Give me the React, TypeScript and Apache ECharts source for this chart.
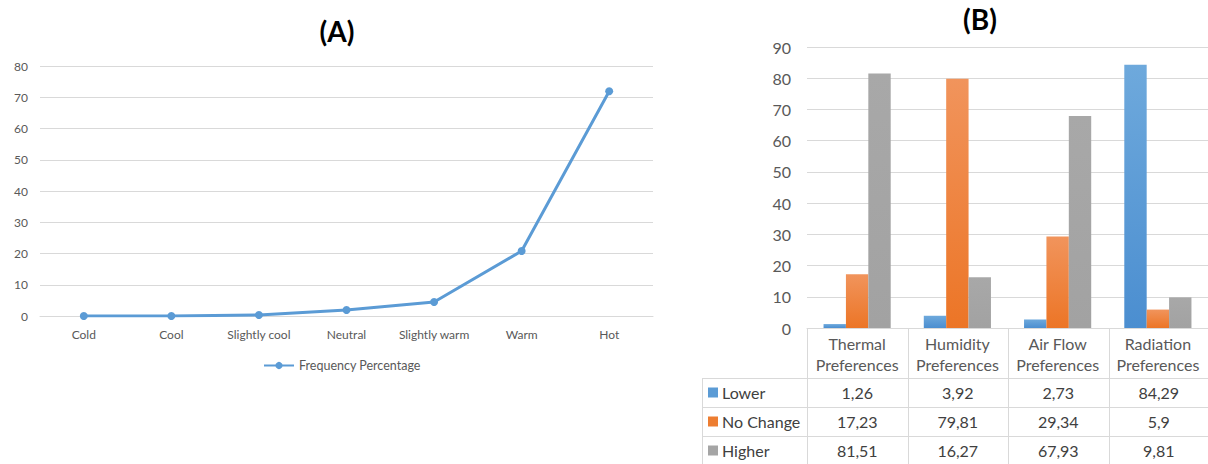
import React, { useEffect, useRef } from "react";
import * as echarts from "echarts";

// ---- Data: chart (A)
const sensationCategories = ["Cold", "Cool", "Slightly cool", "Neutral", "Slightly warm", "Warm", "Hot"];
const frequencyPercentage = [0, 0, 0.3, 1.9, 4.5, 20.8, 71.9];
const seriesNameA = "Frequency Percentage";

// ---- Data: chart (B)
const preferenceCategories = [
  "Thermal\nPreferences",
  "Humidity\nPreferences",
  "Air Flow\nPreferences",
  "Radiation\nPreferences",
];
const seriesNamesB = ["Lower", "No Change", "Higher"];
const lowerValues = [1.26, 3.92, 2.73, 84.29];
const noChangeValues = [17.23, 79.81, 29.34, 5.9];
const higherValues = [81.51, 16.27, 67.93, 9.81];

const FONT = "Lato, 'Open Sans', sans-serif";
const TXT = "#595959";
const GRID_C = "#D9D9D9";
const COLORS_B = ["#5B9BD5", "#ED7D31", "#A5A5A5"];
const GRAD_B = [
  ["#6EA9DC", "#4B8ED0"],
  ["#F1945C", "#EC7526"],
  ["#A8A8A8", "#A2A2A2"],
];

// layout
const A = { left: 40, top: 66, width: 613, height: 250 };
const B = { left: 807, top: 47, width: 402, height: 281 };
const TABLE = { headerBottom: 378, rowH: 29, labelLeft: 702, bottom: 470 };

function buildGraphic() {
  const els: any[] = [];
  els.push({
    type: "text",
    x: 337,
    y: 31,
    style: { text: "(A)", align: "center", verticalAlign: "middle", font: `bold 28px ${FONT}`, fill: "#000" },
  });
  els.push({
    type: "text",
    x: 980,
    y: 19,
    style: { text: "(B)", align: "center", verticalAlign: "middle", font: `bold 28px ${FONT}`, fill: "#000" },
  });
  const n = preferenceCategories.length;
  const colW = B.width / n;
  const tableTop = B.top + B.height;
  const right = B.left + B.width;
  const lineStyle = { stroke: GRID_C, lineWidth: 1 };
  const rowsData = [lowerValues, noChangeValues, higherValues];
  for (let r = 0; r <= rowsData.length; r++) {
    const y = TABLE.headerBottom + r * TABLE.rowH + 0.5;
    els.push({ type: "line", shape: { x1: TABLE.labelLeft, y1: y, x2: right, y2: y }, style: lineStyle, silent: true });
  }
  els.push({
    type: "line",
    shape: { x1: TABLE.labelLeft + 0.5, y1: TABLE.headerBottom, x2: TABLE.labelLeft + 0.5, y2: TABLE.bottom },
    style: lineStyle,
    silent: true,
  });
  for (let i = 0; i <= n; i++) {
    const x = Math.round(B.left + i * colW) + 0.5;
    els.push({ type: "line", shape: { x1: x, y1: tableTop, x2: x, y2: TABLE.bottom }, style: lineStyle, silent: true });
  }
  rowsData.forEach((vals, r) => {
    const yc = TABLE.headerBottom + (r + 0.5) * TABLE.rowH;
    els.push({
      type: "rect",
      shape: { x: 708, y: yc - 5, width: 10, height: 10 },
      style: { fill: COLORS_B[r] },
      silent: true,
    });
    els.push({
      type: "text",
      x: 722,
      y: yc,
      style: { text: seriesNamesB[r], align: "left", verticalAlign: "middle", font: `16px ${FONT}`, fill: "#404040" },
    });
    vals.forEach((v, i) => {
      els.push({
        type: "text",
        x: B.left + (i + 0.5) * colW,
        y: yc,
        style: {
          text: String(v).replace(".", ","),
          align: "center",
          verticalAlign: "middle",
          font: `16px ${FONT}`,
          fill: "#404040",
        },
      });
    });
  });
  return els;
}

export default function App() {
  const ref = useRef<HTMLDivElement>(null);
  useEffect(() => {
    document.body.style.margin = "0";
    if (!ref.current) return;
    const chart = echarts.init(ref.current, undefined, { renderer: "svg" });
    const seriesDataB = [lowerValues, noChangeValues, higherValues];
    chart.setOption({
      animation: false,
      backgroundColor: "#fff",
      textStyle: { fontFamily: FONT },
      grid: [
        { left: A.left, top: A.top, width: A.width, height: A.height, containLabel: false },
        { left: B.left, top: B.top, width: B.width, height: B.height, containLabel: false },
      ],
      legend: {
        data: [seriesNameA],
        left: 258,
        top: 354,
        itemWidth: 30,
        itemHeight: 9,
        textStyle: { color: TXT, fontSize: 12.5, fontFamily: FONT },
      },
      xAxis: [
        {
          type: "category",
          gridIndex: 0,
          data: sensationCategories,
          boundaryGap: true,
          axisLine: { lineStyle: { color: GRID_C } },
          axisTick: { show: false },
          axisLabel: { color: TXT, fontSize: 12, margin: 12, fontFamily: FONT, interval: 0, hideOverlap: false },
        },
        {
          type: "category",
          gridIndex: 1,
          data: preferenceCategories,
          axisLine: { lineStyle: { color: GRID_C } },
          axisTick: { show: false },
          axisLabel: { color: TXT, fontSize: 16, lineHeight: 21, margin: 5, fontFamily: FONT, interval: 0 },
        },
      ],
      yAxis: [
        {
          type: "value",
          gridIndex: 0,
          min: 0,
          max: 80,
          interval: 10,
          axisLine: { show: false },
          axisTick: { show: false },
          splitLine: { lineStyle: { color: GRID_C } },
          axisLabel: { color: TXT, fontSize: 12, margin: 12, fontFamily: FONT },
        },
        {
          type: "value",
          gridIndex: 1,
          min: 0,
          max: 90,
          interval: 10,
          axisLine: { show: false },
          axisTick: { show: false },
          splitLine: { lineStyle: { color: GRID_C } },
          axisLabel: { color: TXT, fontSize: 16, margin: 16, fontFamily: FONT },
        },
      ],
      series: [
        {
          name: seriesNameA,
          type: "line",
          xAxisIndex: 0,
          yAxisIndex: 0,
          data: frequencyPercentage,
          symbol: "circle",
          symbolSize: 8,
          lineStyle: { color: "#5B9BD5", width: 3 },
          itemStyle: { color: "#5B9BD5" },
        },
        ...seriesNamesB.map((name, i) => ({
          name,
          type: "bar",
          xAxisIndex: 1,
          yAxisIndex: 1,
          data: seriesDataB[i],
          barGap: "0%",
          barCategoryGap: "33%",
          itemStyle: {
            color: new echarts.graphic.LinearGradient(0, 0, 0, 1, [
              { offset: 0, color: GRAD_B[i][0] },
              { offset: 1, color: GRAD_B[i][1] },
            ]),
          },
        })),
      ],
      graphic: buildGraphic(),
    });
    return () => chart.dispose();
  }, []);
  return <div ref={ref} style={{ width: 1208, height: 464 }} />;
}
